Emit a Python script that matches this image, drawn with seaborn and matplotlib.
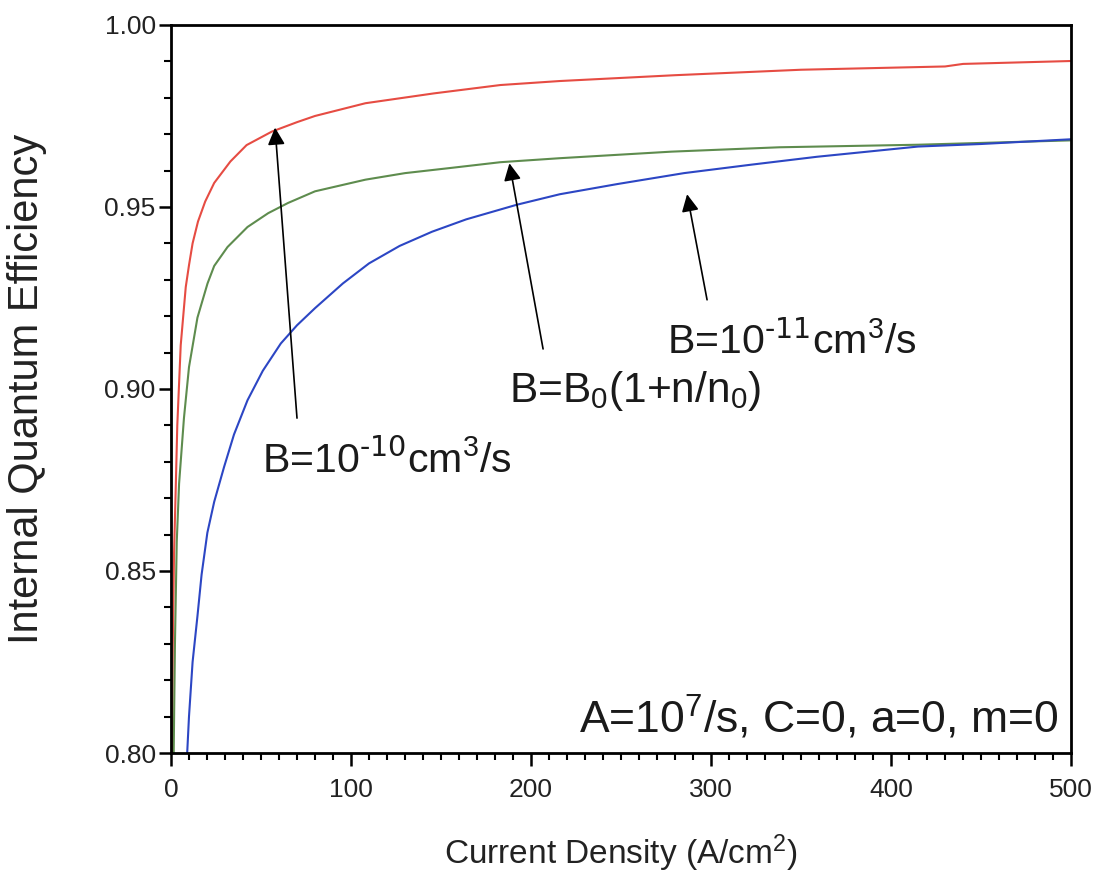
import numpy as np
import pandas as pd
import matplotlib
matplotlib.use("Agg")
import matplotlib.pyplot as plt
from matplotlib.ticker import MultipleLocator, FormatStrFormatter
import seaborn as sns

# ---- data ----
red_J = [0.6, 1.0, 1.7, 2.6, 3.5, 5.4, 8.2, 10, 12, 15, 19, 24, 33, 42, 56, 70, 80,
         108, 146, 183, 216, 280, 350, 430, 440, 500]
red_Q = [0.800, 0.830, 0.855, 0.872, 0.890, 0.912, 0.928, 0.934, 0.940, 0.946,
         0.9515, 0.9566, 0.9625, 0.967, 0.9707, 0.9733, 0.9750, 0.9785, 0.9812,
         0.9835, 0.9846, 0.9862, 0.9877, 0.9886, 0.9893, 0.9901]

green_J = [1.5, 2.2, 3.2, 4.5, 7.2, 10, 14.7, 20.3, 24, 31.4, 42.5, 54, 65, 80, 108,
           130, 155, 183, 216, 278, 338, 415, 500]
green_Q = [0.800, 0.830, 0.858, 0.874, 0.892, 0.906, 0.9196, 0.929, 0.9338,
           0.9390, 0.9445, 0.9483, 0.9511, 0.9543, 0.9575, 0.9593, 0.9607,
           0.9623, 0.9634, 0.9652, 0.9664, 0.9671, 0.9683]

blue_J = [9, 10, 12, 14.7, 17, 20.2, 24, 29.5, 35, 42.5, 51, 61, 70, 80, 95.5, 110,
          127, 145, 164, 192, 216, 248, 285, 322, 359, 387, 415, 450, 500]
blue_Q = [0.800, 0.810, 0.825, 0.8376, 0.849, 0.8605, 0.869, 0.8786, 0.8875,
          0.8969, 0.905, 0.9125, 0.9175, 0.9222, 0.9290, 0.9345, 0.9393, 0.9432,
          0.9466, 0.9506, 0.9535, 0.9563, 0.9593, 0.9616, 0.9638, 0.9652,
          0.9666, 0.9673, 0.9686]

series_names = ["B=1e-10", "B=B0(1+n/n0)", "B=1e-11"]
series_colors = ["#e64c43", "#5e8c4e", "#2c46c4"]

x_ticks = [0, 100, 200, 300, 400, 500]
y_ticks = [0.80, 0.85, 0.90, 0.95, 1.00]

df = pd.concat([
    pd.DataFrame({"J": red_J, "IQE": red_Q, "curve": series_names[0]}),
    pd.DataFrame({"J": green_J, "IQE": green_Q, "curve": series_names[1]}),
    pd.DataFrame({"J": blue_J, "IQE": blue_Q, "curve": series_names[2]}),
])

sns.set_theme(style="white")
plt.rcParams["font.family"] = ["Liberation Sans", "DejaVu Sans"]
plt.rcParams["mathtext.default"] = "regular"

fig = plt.figure(figsize=(11.06, 8.76), dpi=100)
ax = fig.add_axes([0.1546, 0.1404, 0.8138, 0.8311])

sns.lineplot(data=df, x="J", y="IQE", hue="curve", hue_order=series_names,
             palette=dict(zip(series_names, series_colors)), estimator=None,
             sort=False, linewidth=1.5, legend=False, ax=ax)

ax.set_xlim(0, 500)
ax.set_ylim(0.80, 1.00)
ax.set_xticks(x_ticks)
ax.set_yticks(y_ticks)
ax.xaxis.set_minor_locator(MultipleLocator(10))
ax.yaxis.set_minor_locator(MultipleLocator(0.01))
ax.yaxis.set_major_formatter(FormatStrFormatter("%.2f"))
ax.tick_params(axis="both", which="both", bottom=True, left=True, top=False, right=False)
ax.tick_params(axis="both", which="major", direction="out", length=9, width=1.8,
               labelsize=19, color="black", labelcolor="#222222")
ax.tick_params(axis="y", which="major", pad=2)
ax.tick_params(axis="x", which="major", pad=9)
ax.tick_params(axis="both", which="minor", direction="out", length=5, width=1.5,
               color="black")
for s in ax.spines.values():
    s.set_linewidth(2.0)
    s.set_color("black")

ax.set_xlabel("Current Density (A/cm$^2$)", fontsize=24, labelpad=22, color="#222222")
ax.set_ylabel("Internal Quantum Efficiency", fontsize=30, color="#222222")
ax.yaxis.set_label_coords(-0.138, 0.5)

arrow = dict(arrowstyle="-|>", mutation_scale=26, lw=1.2, color="black",
             shrinkA=0, shrinkB=0)
ax.annotate("", xy=(57.8, 0.9718), xytext=(70, 0.892), arrowprops=arrow)
ax.annotate("", xy=(188, 0.9620), xytext=(206.7, 0.911), arrowprops=arrow)
ax.annotate("", xy=(286.7, 0.9535), xytext=(297.8, 0.9245), arrowprops=arrow)

tk = dict(fontsize=29.5, color="#1a1a1a", va="baseline", ha="left")
ax.text(50.5, 0.8770, r"B=10$^{\text{-10}}$cm$^3$/s", **tk)
ax.text(188, 0.8965, "B=B$_0$(1+n/n$_0$)", fontsize=30.5, color="#1a1a1a",
        va="baseline", ha="left")
ax.text(275.6, 0.9095, r"B=10$^{\text{-11}}$cm$^3$/s", **tk)
ax.text(493, 0.8055, "A=10$^7$/s, C=0, a=0, m=0", fontsize=32, color="#1a1a1a",
        va="baseline", ha="right")

fig.savefig("out.png", dpi=100)
